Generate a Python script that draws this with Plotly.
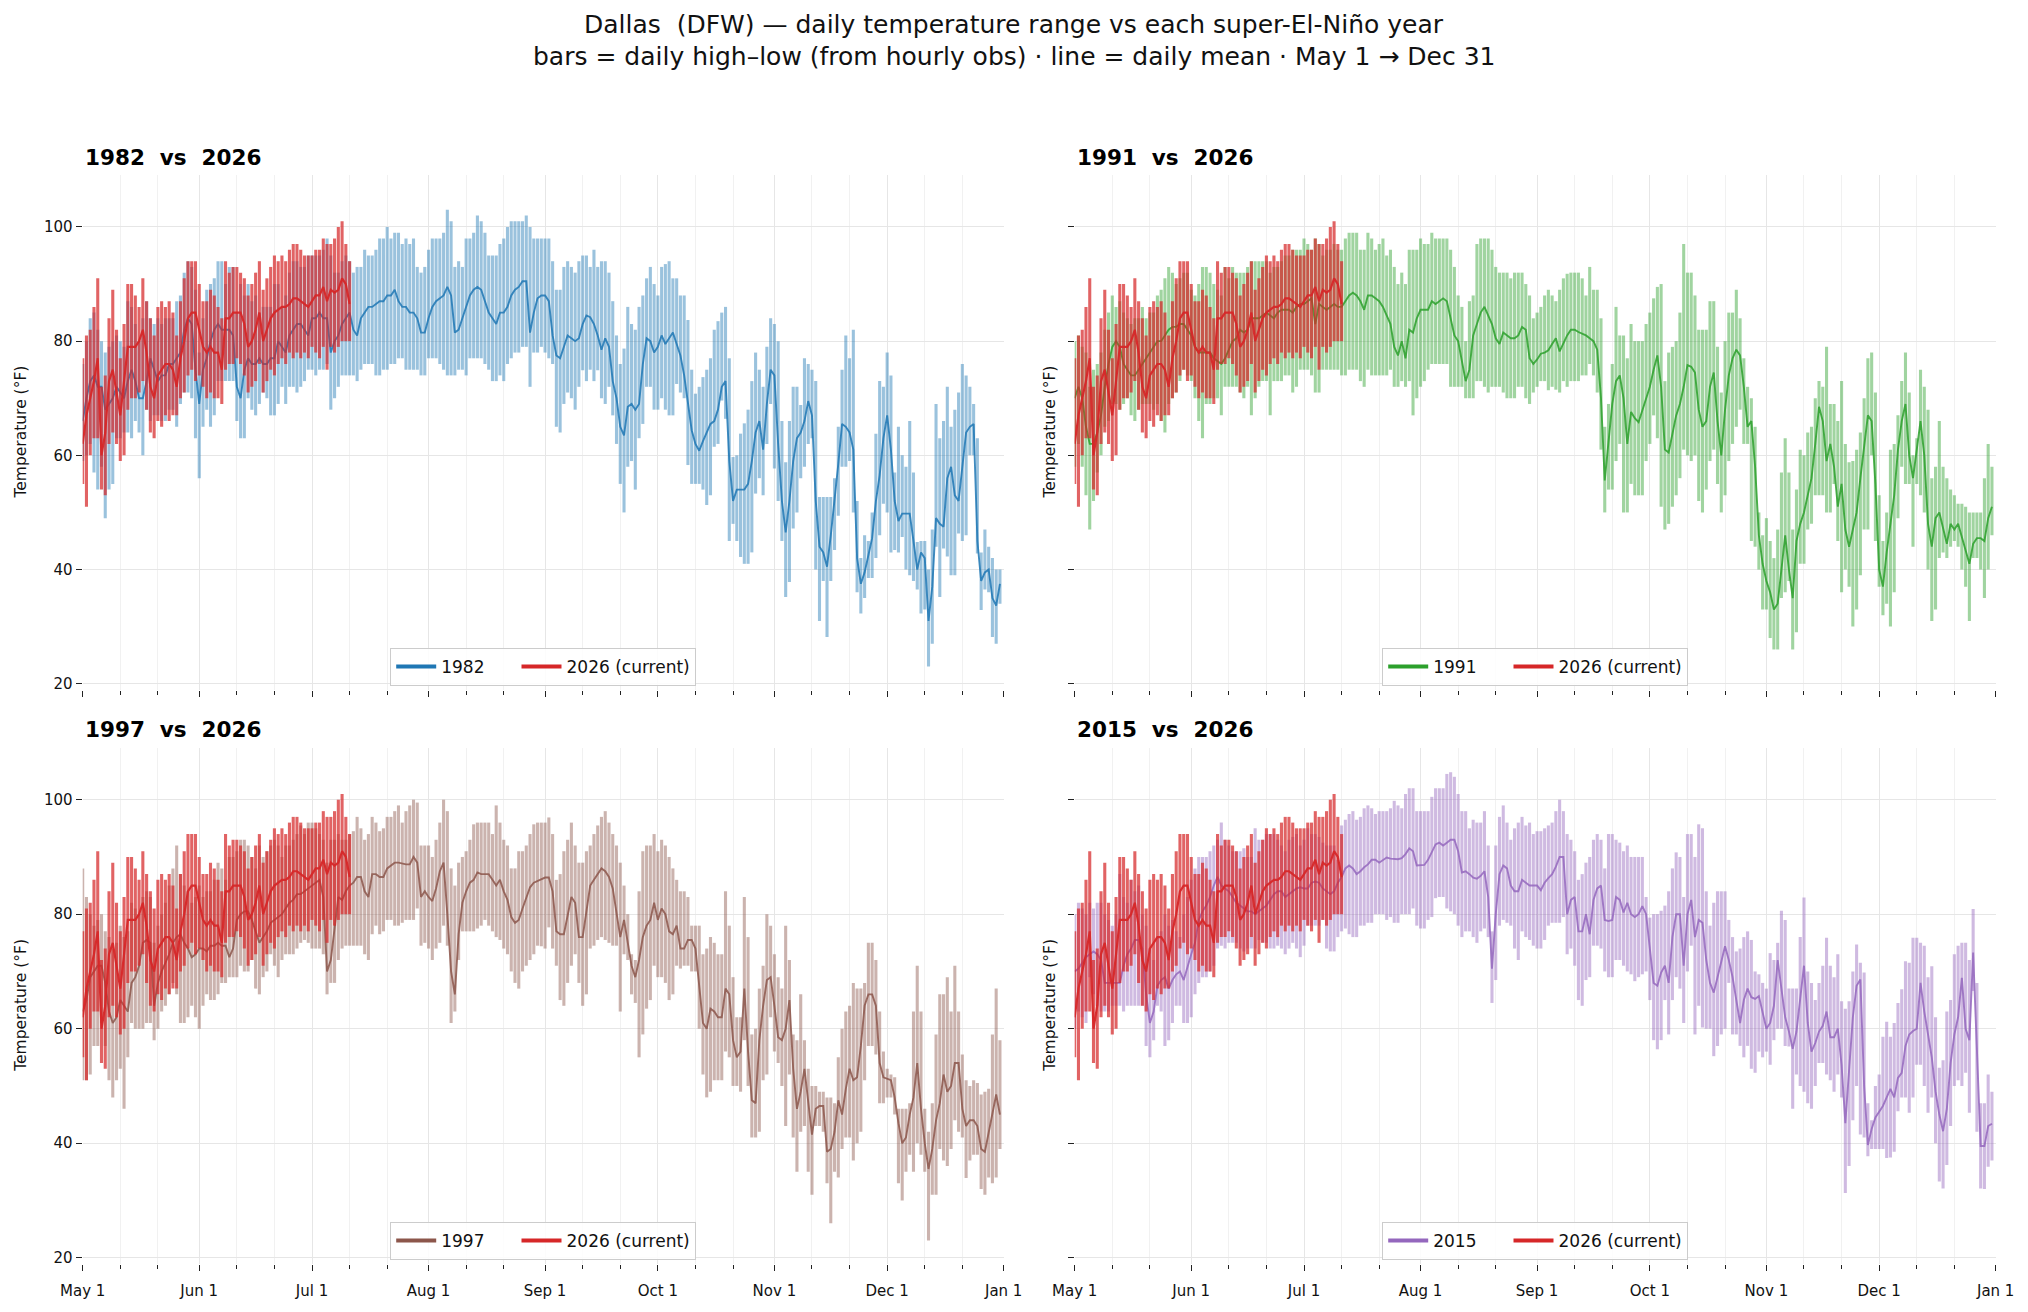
import plotly.graph_objects as go
import pandas as pd

W, H = 2028, 1312
FONT = "DejaVu Sans"

DATES = pd.date_range("2026-05-01", "2026-12-31", freq="D")
TICK_DATES = pd.date_range("2026-05-01", "2027-01-01", freq="MS")
TICK_LABELS = ["May 1", "Jun 1", "Jul 1", "Aug 1", "Sep 1", "Oct 1", "Nov 1", "Dec 1", "Jan 1"]
MINOR_DATES = [d + pd.Timedelta(days=k) for d in TICK_DATES[:-1] for k in (10, 20)]
Y_TICKS = [20, 40, 60, 80, 100]

# ---------------- 2026 (current, May 1 -> Jul 12) ----------------
M2026 = [62,67,70,73,77,60,64,73,75,71, 67,73,79,79,79,80,82,78,72,70,
         74,75,76,76,75,72,77,80,84,85, 85,82,79,78,79,78,78,75,84,84,
         85,85,85,83,79,80,82,85,80,82, 84,85,85.5,86,86,86.5,87.5,87.5,87,86.5,
         86,87,88,88,89.5,87,89,88.5,89,91, 90,86.5]
H2026 = [77,81,82,86,91,72,74,84,89,82, 77,83,90,90,88,86,91,87,84,81,
         86,87,86,87,85,81,87,91,94,94, 94,90,87,87,89,88,86,84,94,92,
         93,93,92,91,88,90,92,94,89,91, 93,95,94,95,94,96,97,97,96,95,
         95,95,96,96,98,97,97,98,100,101, 97,94]
L2026 = [55,51,60,63,63,54,53,62,64,62, 59,60,68,70,70,71,73,68,64,63,
         66,65,67,66,67,67,70,71,74,75, 73,74,72,70,71,70,70,69,75,76,
         76,77,76,74,71,72,73,76,71,73, 75,74,76,77,76,78,77,78,77,78,
         77,79,78,77,79,75,79,78,79,80, 80,80]

# ---------------- 1982 ----------------
M1982 = [66,70,73,74,72,72,68,69,70,72, 71,70,73,75,73,70,70,73,77,75,
         73,74,74,76,76,77,78,82,84,83, 75,69,75,77,80,82,83,82,82,82,
         81,72,70,75,77,76,76,77,76,76, 77,77,80,79,78,81,82,83,83,82,
         81,84,84,85,84,84,78,80,81,83, 84,85,82,81,84,85,86,86,86.5,87,
         87,88,88,89,87,86,86,85,85,84, 81.5,81.5,84,86,87,87.5,88,89.5,88,81.5,
         82,84,86,88,89,89.5,89,87,85,84, 83,85,85,86,88,89,89.5,90.5,90.5,81.5,
         85,87.5,
         88,88,87,81,77.5,77,79,81,80.5,80, 80.5,83,84.5,84.2,83,81,78.5,80.5,79,73,
         70,65,63.5,68.5,69,68,69,76,80.5,80, 78,79,81,79.5,80.5,81.5,79.5,77.5,74,69,
         64.4,62,60.8,62.5,64,65.5,66,68,72,73, 59,52,54,54,54,55,59,64,66,61,
         69,75,74,62,52,46.5,52,59,63,64, 66,69.5,67,52,44,43,40.5,46,52,58.5,
         65.5,65,64,61,42,37.5,39.5,42.8,45.5,52, 56.5,63,67,61,52,48.5,49.8,49.8,49.8,45,
         40,43,42,31,37,49,48,47.5,56,58, 53,52,58,64,65,65.5,45,38,39.5,40,
         35,33.7,37.5]
H1982 = [76,80,84,85,82,80,78,79,80,81, 80,79,87,86,83,80,84,87,84,83,
         84,83,84,84,84,87,88,92,94,93, 89,78,84,89,90,91,94,94,90,93,
         93,85,90,88,90,87,88,85,86,86, 86,90,90,86,88,92,94,94,93,93,
         95,95,95,95,96,98,95,92,92,94, 95,94,92,93,93,96,95,95,96,98,
         98,100,98,99,99,97,98,97,98,93, 92,93,96,98,98,98,99,103,101,93,
         94,93,98,98,99,102,101,99,95,95, 95,97,98,100,101,101,101,101,102,100,
         98,98,
         98,98,98,94,89,89,93,94,93,92, 94,95,95,93,96,93,94,94,92,87,
         81,76,78.7,86,83,82,86,88,91,93, 90,88,93,93.5,94,91,91,88,88,83.7,
         75,70.8,72,73.7,75,77,82,83.5,85,86, 77,59.7,60,63.8,65.6,68,73,78,75,72,
         79,84,83,80,66,58.8,66,72,72,68.8, 77,76,75,73,52.7,52.7,52.7,52.7,56,65,
         75,81,77,82,52,42,46,45,50,63.8, 73,72,78,74,57,65,60,58,66,57,
         44.8,45,45,40,47,69,63,66,72,65, 68,71,76,74,72,69,63,43,47,44,
         42,40,40]
L1982 = [59,60,62,57,54,58,49,54,55,63, 63,64,64,63,66,64,60,68,66,67,
         67,66,66,68,68,65,69,71,71,70, 63,56,65,68,65,67,73,73,73,73,
         73,66,63,63,70,68,67,69,71,70, 67,67,69,72,69,72,72,71,72,73,
         75,75,74,75,75,76,68,70,72,74, 74,74,74,73,75,76,76,76,74,74,
         75,75,76,76,77,77,75,75,75,75, 74,74,77,77,77,76,75,74,74,74,
         75,75,74,77,77,77,77,76,75,73, 73,74,73,76,77,78,78,79,79,72,
         78,78,
         79,78,77,76,65,64,69,71,70,68, 72,74.9,73,75,73,74.9,70,69,72,67,
         62,55,50,58,59,54,63,65.5,72,72, 68,68,70,68,67,67,72.5,71,70,58.3,
         55,55,55,54,51.3,53,61.5,62,69.6,66.4, 45,48,45,42.2,41,41,43,53.3,56,53,
         62,69,57.7,52,45,35.2,37.8,47.2,50,56, 58,62,63,40,31,38,28.2,38,43.4,49.4,
         58,58,59,50,36,32.3,35,38.5,38.5,42, 46,51.5,50,43,43.4,43,45.7,40,39,38,
         36.5,32.3,33,23,27,44,35.2,43.7,42.3,39, 39,46.3,45,46,60,60,42.8,32.9,36.5,36,
         28.2,27,34]

# ---------------- 1991 ----------------
M1991 = [70,72,70,65,62,62,64,67,72,76, 79,80,79,76,75,74,74,75,76,77,
         78,79,80,80,81,82,82.5,82.5,83,83, 82,81,79,78,78,78,78,77,76.5,76,
         77,78.5,80,80.5,82,81.5,82,84,84,84, 84.5,85,84.5,84,85,85.5,85.5,85.5,85,86,
         86.5,86.5,87,87.5,83,86.5,86,85.5,86,86.5, 86,86,87,88,88.5,88,87,85.5,88,88,
         87.5,87,86,84.5,83,79,77.5,80,77,82, 81.5,84,85.5,85.5,85.5,87,86.5,87,87.5,87,
         84,81,80,76.5,73,75,81,83,85,86, 84.5,83,80.5,79.5,81.5,81,80.5,80.5,81,82.5,
         82,77,
         76,76.8,77.8,78,78.4,79.5,80.5,78.2,79.5,81, 82,82,81.6,81.3,81,80.5,80,78.5,70,55.6,
         62,69,73,74,70,62,67.6,66.5,65.8,68, 70,72,75,77.5,72,61,60.5,64,67,69,
         72,75.8,75.5,74.5,68,65,66,72,74.5,66, 60,68,74,77,78.5,77.5,72,65,66,58,
         46,41,38,36,33,34,40,46,40,35, 45,48,50,53,56,62,68.5,66,59,62,
         58,51,55,47,44,47,50,56,62,67, 66,55,40,37,43,48,53,61,66,69,
         60,56,61,66,60,48,44,49,50,47, 44.5,48,47,48,45.5,43,41,44.5,45.5,45.5,
         45,49,51]
H1991 = [80,81,79,78,72,75,76,78,82,85, 88,86,87,85,84,83,84,84,86,84,
         85,85,88,89,91,93,92,90,91,92, 92,89,88,90,93,93,92,90,89,88,
         93,91,93,92,92,92,93,94,94,94, 94,94,92,93,93,94,95,95,96,96,
         96,98,97,96,98,97,95,96,96,97, 96,96,98,99,99,99,96,96,99,98,
         96,97,98,95,96,93,90,92,90,96, 96,96,98,97,97,99,98,98,98,98,
         96,93,88,86,80,87,88,97,98,98, 98,96,93,92,92,92,91,92,92,92,
         90,88,
         84,85,86,88,89,88,87,89,91,91.8, 92,92,92,91,88,93,89,89,84,65,
         69,76,86,81,81,77,83,80,80,80, 83,85,87.5,89.5,90,73,78,79,80,85,
         97,92,92,88,82,82,82,87,87,79, 71,80,85,85,89,84,77,72,70,65,
         50,46,49,45,42,47,57,63,57,47, 54,61,60,64,65,70,73,72,79,69,
         69,66,73,62,58.8,59,61,64,70,77, 78,71,53,45,50,61,62,67,73,78,
         71,60,63,75,72,68,56,58,66,58, 56,54,53,51.5,51.5,51,50,50,50,50,
         56,62,58]
L1991 = [58,62,58,53,47,52,57,60,65,66, 69,69,68,69,70,67,66,68,69,69,
         69,68,69,66,64,69,70,71,73,75, 74,73,70,66,63,69,69,70,70,67,
         72,72,72,72,71,70,72,67,70,72, 73,73,67,73,73,73,74,74,71,72,
         75,75,75,74,71,71,75,75,75,75, 75,74,74,75,75,75,73,72,75,74,
         74,74,74,74,75,72,72,73,72,73, 67,70,72,73,75,76,76,76,76,76,
         72,72,72,72,70,70,70,73,73,72, 71,72,72,72,71,70,70,70,72,72,
         70,69,
         71,72,73,73,71.4,72,71.5,71,73,72, 73,73,73,74,74,76,74,71,61,50,
         54,54,59,62,50,50,55,53,53,53, 59,62,67,63,51,47,48,51,53,56,
         61,60,59,60,52,50,54,59,61,55, 50,53,59,62,65,68,62,62,45,44,
         40,33,33,28,26,26,35,36,38,26, 29,41,41,47,48,53,53,53,50,50,
         55,45,36,40,37,30,33,39,47,47, 60,45,37,32,34,30,36,49,58,55,
         55,44,55,53,50,40,31,33,42,43, 42,44,45,44,40,37,31,42,42,40,
         35,40,46]

# ---------------- 1997 ----------------
M1997 = [63,65,69,70,71,71,68,63,61,62, 65,64,63,68,69,71,75,75.5,75,64,
         68,70,71.5,73,75,76,76.5,75,74,72.5, 73,74,74,73.5,74.5,74.5,75,74.5,74.5,72.5,
         74,79,80,80.5,80.5,79,77,75,76,77, 78.5,79,79.5,80,81,82,82.5,83.5,83.5,84,
         84.5,85,85.5,86,83,70,72,78,83,82.5, 84,85,85.5,86.5,86.5,84,83,87,87,86.5,
         86.5,88,88.5,89,89,88.8,88.7,88.7,90,89, 83,84,83,82.3,84.5,87.5,89,80,70,66,
         76.5,82,84,85.5,86,87.3,87,87,87,86, 85,86,84,82.5,79.5,78.5,79,81,83,84.7,
         85.5,85.8,
         86,86.4,86.4,84,77,76.5,76.5,80,83,82, 76,76,81,85,86,87,88,87.5,86.5,84.5,
         80,76,79,75,71,69,72,76,78,79, 82,79,81,80,77,76.5,78,74,74,75.5,
         75.5,74,68,61,60,63.5,63,62,62,67, 66,58,55,56,67,56,47.5,47,58,64,
         68.5,69,64,58.5,58,60,65,53,46,49, 53,47.5,41.5,46,46.5,46.5,38.5,39,42,47.5,
         45,49.5,53,51,51.5,57,64,66,66,64, 54,51.5,51.3,51,48,43.5,40,41,45,48,
         54,46,40,35.5,39,44,47,52,49,50, 54,54,46,43,44,44,43,39,38.5,42,
         45,48.5,45]
H1997 = [88,83,80,78,79,80,77,76,74,75, 78,76,77,82,81,80,83,84,83,75,
         78,80,82,85,88,92,87,85,84,82, 83,85,83,84,84,86,89,88,86,90,
         90,91,93,93,92,90,88,92,90,91, 92,93,92,90,92,92,93,94,95.5,94,
         96,96,95,94,93,89,93,93,94,93, 93,94,94.5,97,95,93,94,97,96,94.5,
         95,97,97,98,99,96,98,99,100,99.5, 92,92,92,90,93,96,100,98,88,85,
         89,90,91,93,95.7,96,96,96,96,94, 99,96,93,92,88,88,91,91,92,94,
         95.7,96,
         96,96,96.9,94,86,87,91,93,96,92, 89,89,91,92,94,95.5,97,98,96,94,
         92,89,85,80,73,72,84,91,92,92, 94,91,93,92,90,88,86,84,84,83,
         78,78,78,73,74,76,75,73,73,84, 78,69,62,62,83,76,59,60,67,71,
         80,78,73,69,67,78,72,59,58,66, 58,53,50,50,49,49,48,48,47,55,
         60,63,64,68,67,67,68,75,75,72, 63,56,53,52,51.5,46,46,46,47,63,
         71,63,46,42,47,59,66,66,69,63, 71,63,55.5,51,50,51,50.5,48.5,49,49.5,
         59,67,58]
L1997 = [51,51,52,57,57,61,57,51,48,51, 53,46,55,61,60,60,60,61,61,58,
         60,63,64,66,68,66,61,61,62,64, 62,60,64,66,65,65,66,68,68,69,
         69,69,71,70,70,72,67,66,69,70, 73,71,69,72,73,73,73,74,75,75.5,
         75,74,74,74,73,66,68,68,72,74, 74.5,74.5,74.5,74.5,74.5,73,72,76.5,78,76.5,
         77,79,79,78,78,78.5,79,79,79,81, 74.5,75,74,72,74,75,78,74.5,61,63,
         72,77,77,77,77,77.5,78,79,78,77, 76,75.5,74,73,70,68,67,70,71,72,
         73,74.5,
         74.4,74,77.7,74,71,65,64,68,71,73, 68,64,66,74,74.5,75.5,76,75.5,75,74.5,
         74.5,63,73,72,66,64.5,55,59,63.5,65, 71,69,69,68,65,66,71,70.5,71,71,
         70,70,60,52,48,49,51,51,51,56, 55,50,50,49,58,50,41,41,42,51,
         52,62,56,54,50,43,52,41,35,42, 43,35,31,43,43,42,33,26,35,34,
         39,41,41,37,40,42,51,57,57,55.5, 47,47,48,48,45,33,30,35,38,35,
         40,38,35,23,31,31,39,37,36,39, 44,42,41,33.9,37,38,38,32,31,34,
         33,34,39]

# ---------------- 2015 ----------------
M2015 = [70,70.5,71.5,72.5,73,73.5,73,72,68,68, 68,68,68,71,73,74,75.5,75.5,74,66,
         61,63,67.5,68.5,69,67,68.5,69.5,70,68.5, 71,73,75,79,80.5,81.5,83,85,86.5,85,
         84.5,84,83,82,81.5,81,80.5,80.5,80,80.5, 81,81.5,82.5,83.5,84,84,83,83.5,84,84.5,
         84.7,84.5,84.5,85.5,85.7,85.5,84.5,84,83.5,84, 85.5,86.5,88,88.5,88,87,87.5,88.2,88.7,89.5,
         89.5,89,89.5,89.9,89.7,89.6,89.6,89.8,90.5,91.5, 91,88.5,88.5,88.6,89.5,91,92.2,92.5,92,92.5,
         93,93,91,87.3,87.5,87,86.4,86.2,86.7,87.5, 83,70.5,80,87,88.5,88,85,84,84,86,
         85.5,85,
         85,85,84.2,85.5,86.3,87,88.3,90,90,80, 82.5,83,77,77,80,76.5,82.5,84.5,85,79,
         78.8,79,83,82.5,80.3,82,80,79.5,80,81.4, 80,74,68,67.5,69.8,71,68,76,80,80,
         71,80,82.5,76,79,78.5,72,68,66.3,69, 71.5,74.4,72,69,65,61,65,67,65.5,65.2,
         65.7,63,60,61,64,72,67,62,59.5,56.5, 59.5,65,71,61,56,57.5,59.5,60.5,63,58.5,
         58.5,60,53.7,43.5,52,62,67.5,68.6,50,39.7, 42.5,44.5,45.5,46.5,48,49.5,48,51.4,52.3,57,
         59,59.6,60,68,63,59,55,49,45,42.1, 46,54,59,62,68.9,60,58,73.3,55,39.5,
         39.5,43,43.4]
H2015 = [80,82,81,80,82,81,82,82,80,79, 78,80,87,83,82,86,84,85,80,78,
         74,72,76,77,80,78,79,77,76,80, 83,86,88,90,90,90,91,92,93,96,
         93,92,91,91,91,91.5,90,90,95,93, 93,94,94,94,93,92,91,93,93.5,94,
         92,93,95,94,94,93.5,92.5,92,92,92, 89.5,95.5,96.5,97.5,98,96.5,97,98.5,99,98.5,
         97.5,98,98,98,98.5,99.8,99,98.5,101,102, 102,98,98,98,98,100.5,102,102,102,104.5,
         104.8,104,101,98,98,95,96.5,96,96,98, 92,77,92,97,99,96,93,95,96,97,
         95.5,96,
         94,94.5,94.5,95,95.5,96,98,100,98,94, 93,91,86,87,89,90,93,94,93,88,
         94,94,93,92.5,91,92,90,90,90,90, 83,79.4,80,80,80.6,81.5,84,88,90.8,90,
         83,94,94,90,95.7,95,84,78,82,84, 84,84,79,76,73.5,74,76,77,75.5,70,
         69.5,68,67,73.2,72,75,80.6,79,67,67, 67,76,82.9,70,68,65,68,71,75.9,71,
         69,73,64.8,63.5,64.8,70,74.7,71.5,69.8,47, 44,50,52,58.6,61.2,58.6,61,64.5,66.9,71.8,
         71.5,75.9,75.9,75,74.5,69,70.9,62,53.2,54.5, 63,65,73,74.5,75,75,72,80.9,68,47,
         47,52,49]
L2015 = [60,63,62,61,69,66,64,63,63,63, 64,64,64,63,64,64,64,64,64,57,
         55,58,64,63,57,58,61,64,64,61, 61,62,66,68,69,69,70,71,74,74.5,
         74,75,75,75,74,73.5,74,74,74,75.5, 75,75,74,74,74.5,74,73,74,75,74,
         72.5,74.5,78,78,78,78,79,74,73.5,73.5, 76,77,77.5,76.5,76,76,78,78,78.5,78.5,
         80,80,80,79,79.5,78.5,78.5,80,80,80, 81,78,77.5,77.5,79,79.5,82.8,83,83,81,
         80.5,80,78,76,77,77,76,75,77,77.5, 76,64.5,68.5,78,79,78.5,78,74,72,77,
         76,75.5,
         74.5,74,74,75.5,78,78.5,78.5,78.5,79.5,73, 74,71,65,64,68.5,69,74.5,74.5,74,70,
         69,69,72,72,71,70,69.5,68.3,69,69.5, 70,65,58,56.4,58,65,59,65,69,67,
         61,70,74.5,59,64,60.2,60,60,55.2,57, 59,60,68,59,59,57,55,57,53,52.3,
         56,55,56,53.7,58,60,60,57,56.9,46, 52,50,49,47,46,50,54,54,52,51,
         49,52,48,31.3,36,44,50,41.5,41,37.7, 39,39,39,39,37.4,37.5,38.5,45.6,48,48,
         45.3,48,53.7,53.7,50,45.3,48,40,33.3,32.1, 36.2,43,50,51,50,52.3,45.3,66.6,42,32.1,
         32,35.9,37]

YEARS = ["1982", "1991", "1997", "2015"]
SERIES = {
    "1982": (L1982, H1982, M1982),
    "1991": (L1991, H1991, M1991),
    "1997": (L1997, H1997, M1997),
    "2015": (L2015, H2015, M2015),
}
for yr, (lo, hi, me) in SERIES.items():
    if not (len(lo) == len(hi) == len(me) == len(DATES)):
        raise SystemExit(f"{yr}: {len(lo)} {len(hi)} {len(me)}")
if not (len(L2026) == len(H2026) == len(M2026)):
    raise SystemExit("2026 length mismatch")

COLORS = {"1982": (31, 119, 180), "1991": (44, 160, 44), "1997": (140, 86, 75), "2015": (148, 103, 189)}
RED = (214, 39, 40)


def rgba(c, a):
    return f"rgba({c[0]},{c[1]},{c[2]},{a})"


# panel geometry (pixels -> paper)
XL = [82.7 / W, 1003.7 / W]
XR = [1074.7 / W, 1995.7 / W]
YT = [1 - 690 / H, 1 - 175 / H]
YB = [1 - 1264 / H, 1 - 747.6 / H]

PANELS = [
    ("1982", "", XL, YT, False, True),
    ("1991", "2", XR, YT, False, False),
    ("1997", "3", XL, YB, True, True),
    ("2015", "4", XR, YB, True, False),
]

DAY_MS = 86400000
BAR_W = 0.82 * DAY_MS
CUR_DATES = DATES[:len(M2026)]
NB = "\u00a0"

fig = go.Figure()
layout = dict(
    width=W, height=H, margin=dict(l=0, r=0, t=0, b=0, autoexpand=False),
    paper_bgcolor="white", plot_bgcolor="white",
    barmode="overlay", hovermode=False,
    font=dict(family=FONT, size=15, color="#111"),
    annotations=[],
)

for yr, sfx, xd, yd, showx, showy in PANELS:
    xa, ya = "x" + sfx, "y" + sfx
    leg = "legend" + sfx
    col = COLORS[yr]
    lo, hi, me = SERIES[yr]
    fig.add_trace(go.Bar(x=DATES, y=[h - l for h, l in zip(hi, lo)], base=lo, width=BAR_W,
                         marker=dict(color=rgba(col, 0.45), line=dict(width=0)),
                         xaxis=xa, yaxis=ya, showlegend=False, zorder=0))
    fig.add_trace(go.Scatter(x=DATES, y=me, mode="lines", line=dict(color=rgba(col, 0.85), width=1.9),
                             xaxis=xa, yaxis=ya, showlegend=False, zorder=1))
    fig.add_trace(go.Bar(x=CUR_DATES, y=[h - l for h, l in zip(H2026, L2026)], base=L2026, width=BAR_W,
                         marker=dict(color=rgba(RED, 0.72), line=dict(width=0)),
                         xaxis=xa, yaxis=ya, showlegend=False, zorder=2))
    fig.add_trace(go.Scatter(x=CUR_DATES, y=M2026, mode="lines", line=dict(color=rgba(RED, 0.95), width=2.2),
                             xaxis=xa, yaxis=ya, showlegend=False, zorder=3))
    # legend handles
    fig.add_trace(go.Scatter(x=[None], y=[None], mode="lines", line=dict(color=rgba(col, 1), width=4),
                             name=yr + NB * 5, xaxis=xa, yaxis=ya, showlegend=True, legend=leg))
    fig.add_trace(go.Scatter(x=[None], y=[None], mode="lines", line=dict(color=rgba(RED, 1), width=4),
                             name="2026 (current)", xaxis=xa, yaxis=ya, showlegend=True, legend=leg))

    layout["xaxis" + sfx] = dict(
        domain=xd, anchor=ya, type="date", automargin=False,
        range=[TICK_DATES[0], TICK_DATES[-1]],
        tickmode="array", tickvals=list(TICK_DATES), ticktext=TICK_LABELS,
        showticklabels=showx, ticks="outside", ticklen=6, tickwidth=1.2, tickcolor="#222",
        ticklabelstandoff=7,
        tickfont=dict(size=15, family=FONT, color="#111"),
        showline=True, linecolor="#222", linewidth=1.3, mirror=False,
        showgrid=True, gridcolor="#e6e6e6", gridwidth=1, zeroline=False,
        minor=dict(tickmode="array", tickvals=MINOR_DATES, ticks="outside", ticklen=3.5,
                   tickwidth=1, tickcolor="#222", showgrid=True, gridcolor="#f1f1f1", gridwidth=1),
    )
    layout["yaxis" + sfx] = dict(
        domain=yd, anchor=xa, range=[18.9, 109.1], automargin=False,
        tickmode="array", tickvals=Y_TICKS,
        showticklabels=showy, ticks="outside", ticklen=6, tickwidth=1.2, tickcolor="#222",
        tickfont=dict(size=15, family=FONT, color="#111"),
        showline=True, linecolor="#222", linewidth=1.3, mirror=False,
        showgrid=True, gridcolor="#e6e6e6", gridwidth=1, zeroline=False,
    )
    layout[leg] = dict(
        x=(xd[0] + xd[1]) / 2, y=yd[0] + 4 / H, xanchor="center", yanchor="bottom",
        orientation="h", bgcolor="rgba(255,255,255,0.85)", bordercolor="#cccccc", borderwidth=1,
        font=dict(size=17, family=FONT, color="#111"), itemwidth=40,
    )
    # panel title
    layout["annotations"].append(dict(
        text=f"<b>{yr}{NB} vs{NB} 2026</b>", x=xd[0], y=yd[1] + 18 / H, xref="paper", yref="paper",
        xanchor="left", yanchor="middle", showarrow=False, font=dict(size=21.5, family=FONT, color="#000")))
    # y label
    lab_x = 21 / W if xd is XL else 1050 / W
    layout["annotations"].append(dict(
        text="Temperature (°F)", x=lab_x, y=(yd[0] + yd[1]) / 2, xref="paper", yref="paper",
        xanchor="center", yanchor="middle", textangle=-90, showarrow=False,
        font=dict(size=15.5, family=FONT, color="#111")))

layout["annotations"].append(dict(
    text=f"Dallas{NB} (DFW) — daily temperature range vs each super-El-Niño year",
    x=0.5, y=1 - 24 / H, xref="paper", yref="paper", xanchor="center", yanchor="middle",
    showarrow=False, font=dict(size=25, family=FONT, color="#111")))
layout["annotations"].append(dict(
    text="bars = daily high–low (from hourly obs) · line = daily mean · May 1 → Dec 31",
    x=0.5, y=1 - 56 / H, xref="paper", yref="paper", xanchor="center", yanchor="middle",
    showarrow=False, font=dict(size=25, family=FONT, color="#111")))

fig.update_layout(**layout)
fig.write_html("out.html")
